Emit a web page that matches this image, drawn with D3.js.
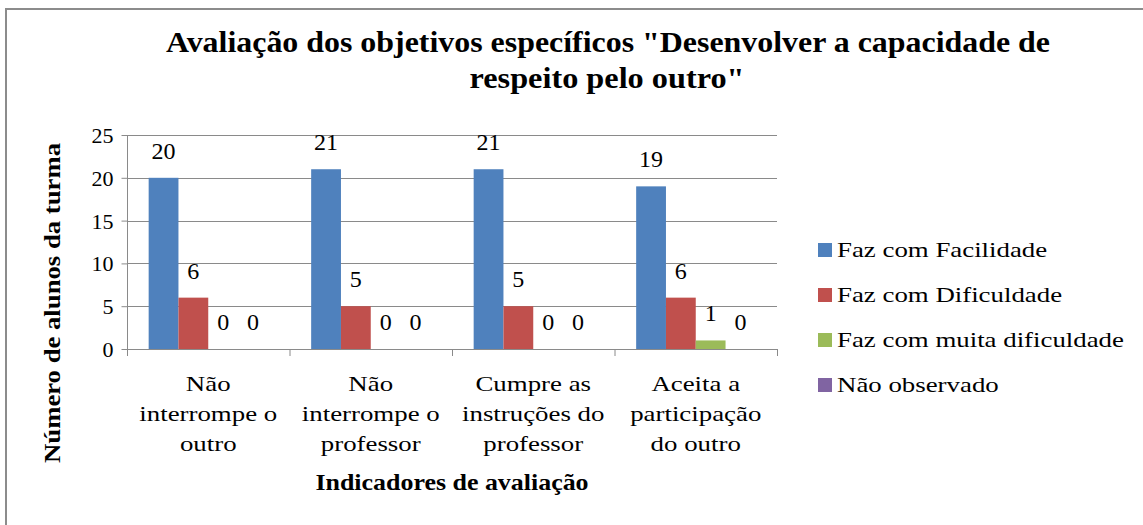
<!DOCTYPE html>
<html>
<head>
<meta charset="utf-8">
<script src="https://cdn.jsdelivr.net/npm/d3@7"></script>
<style>
  html, body { margin: 0; padding: 0; background: #fff; }
  svg { display: block; }
</style>
</head>
<body>
<svg id="chart" width="1143" height="525"></svg>
<script>
const categories = [
  ["Não", "interrompe o", "outro"],
  ["Não", "interrompe o", "professor"],
  ["Cumpre as", "instruções do", "professor"],
  ["Aceita a", "participação", "do outro"]
];
const seriesNames = ["Faz com Facilidade", "Faz com Dificuldade", "Faz com muita dificuldade", "Não observado"];
const facilidade = [20, 21, 21, 19];
const dificuldade = [6, 5, 5, 6];
const muitaDificuldade = [0, 0, 0, 1];
const naoObservado = [0, 0, 0, 0];
const yTicks = [0, 5, 10, 15, 20, 25];
const colors = ["#4F81BD", "#C0504D", "#9BBB59", "#8064A2"];
const titleLines = ["Avaliação dos objetivos específicos \"Desenvolver a capacidade de", "respeito pelo outro\""];
const yTitle = "Número de alunos da turma";
const xTitle = "Indicadores de avaliação";

const FONT = '"Liberation Serif", "Times New Roman", serif';
const seriesValues = [facilidade, dificuldade, muitaDificuldade, naoObservado];
const svg = d3.select("#chart");

// outer frame
svg.append("path")
  .attr("d", "M6,526 L6,9 L1144,9")
  .attr("fill", "none").attr("stroke", "#8c8c8c").attr("stroke-width", 2);

const plot = { left: 127, right: 777, top: 135, bottom: 349 };
const catIdx = categories.map((c, i) => i);
const x0 = d3.scaleBand().domain(catIdx).range([plot.left, plot.right]).paddingInner(0).paddingOuter(0);
const x1 = d3.scaleBand().domain(seriesNames).range([0, x0.bandwidth()]).paddingInner(0).paddingOuter(0.727);
const y = d3.scaleLinear().domain([0, 25]).range([plot.bottom, plot.top]);

function txt(sel, size, bold) {
  return sel.style("font-family", FONT).style("font-size", size + "px")
    .style("font-weight", bold ? "bold" : "normal").style("fill", "#000");
}
function stretch(sel, factor) {
  sel.each(function() {
    const w = this.getComputedTextLength();
    d3.select(this).attr("textLength", w * factor).attr("lengthAdjust", "spacingAndGlyphs");
  });
}

// gridlines
svg.append("g").selectAll("line").data(yTicks.filter(t => t > 0)).join("line")
  .attr("x1", plot.left).attr("x2", plot.right)
  .attr("y1", d => Math.round(y(d)) + 0.5).attr("y2", d => Math.round(y(d)) + 0.5)
  .attr("stroke", "#8a8a8a").attr("stroke-width", 1);

// y axis
const yAxis = svg.append("g").attr("transform", `translate(${plot.left + 0.5},0)`)
  .call(d3.axisLeft(y).tickValues(yTicks).tickSize(6).tickPadding(8).tickFormat(d3.format("d")));
yAxis.select(".domain").attr("stroke", "#8a8a8a").attr("d", `M0,${plot.top}V${plot.bottom}`);
yAxis.selectAll(".tick line").attr("stroke", "#8a8a8a");
txt(yAxis.selectAll(".tick text"), 22, false).attr("dy", "0.34em");

// x axis
const xAxisG = svg.append("g").attr("transform", `translate(0,${Math.round(plot.bottom)})`);
const xAxisScale = d3.scaleLinear().domain([0, categories.length]).range([plot.left, plot.right]);
xAxisG.call(d3.axisBottom(xAxisScale).tickValues(d3.range(categories.length + 1)).tickSize(7).tickFormat(""));
xAxisG.select(".domain").attr("stroke", "#8a8a8a").attr("d", `M${plot.left},0.5H${plot.right}`);
xAxisG.selectAll(".tick line").attr("stroke", "#8a8a8a");

// bars
const groups = svg.append("g").selectAll("g").data(catIdx).join("g")
  .attr("transform", i => `translate(${x0(i)},0)`);
groups.selectAll("rect").data(i => seriesNames.map((s, k) => ({ s, k, v: seriesValues[k][i] }))).join("rect")
  .attr("x", d => x1(d.s)).attr("width", x1.bandwidth())
  .attr("y", d => y(d.v)).attr("height", d => y(0) - y(d.v))
  .attr("fill", d => colors[d.k]);

// value labels
txt(groups.selectAll("text.val").data(i => seriesNames.map((s, k) => ({ s, k, v: seriesValues[k][i] }))).join("text")
  .attr("class", "val")
  .attr("x", d => x1(d.s) + x1.bandwidth() / 2)
  .attr("y", d => y(d.v) - 19)
  .attr("text-anchor", "middle"), 24, false)
  .text(d => d.v);

// category labels
const catG = svg.append("g");
categories.forEach((lines, i) => {
  lines.forEach((ln, j) => {
    const t = txt(catG.append("text")
      .attr("x", x0(i) + x0.bandwidth() / 2)
      .attr("y", 391 + j * 30)
      .attr("text-anchor", "middle"), 22, false)
      .text(ln);
    stretch(t, 1.22);
  });
});

// axis titles
const xt = txt(svg.append("text").attr("x", 452).attr("y", 490).attr("text-anchor", "middle"), 24, true).text(xTitle);
stretch(xt, 1.08);
const yt = txt(svg.append("text").attr("transform", "translate(60,303) rotate(-90)").attr("text-anchor", "middle"), 24, true)
  .text(yTitle);
yt.attr("textLength", 320).attr("lengthAdjust", "spacingAndGlyphs");

// title
const t1 = txt(svg.append("text").attr("x", 608).attr("y", 52).attr("text-anchor", "middle"), 30, true).text(titleLines[0]);
t1.attr("textLength", 884).attr("lengthAdjust", "spacingAndGlyphs");
const t2 = txt(svg.append("text").attr("x", 607).attr("y", 88).attr("text-anchor", "middle"), 30, true).text(titleLines[1]);
t2.attr("textLength", 275).attr("lengthAdjust", "spacingAndGlyphs");

// legend
const leg = svg.append("g").selectAll("g").data(seriesNames).join("g")
  .attr("transform", (d, i) => `translate(818,${250 + i * 45})`);
leg.append("rect").attr("x", 0).attr("y", -7).attr("width", 14).attr("height", 14)
  .attr("fill", (d, i) => colors[i]);
const legText = txt(leg.append("text").attr("x", 19).attr("y", 7), 22, false).text(d => d);
stretch(legText, 1.22);
</script>
</body>
</html>
